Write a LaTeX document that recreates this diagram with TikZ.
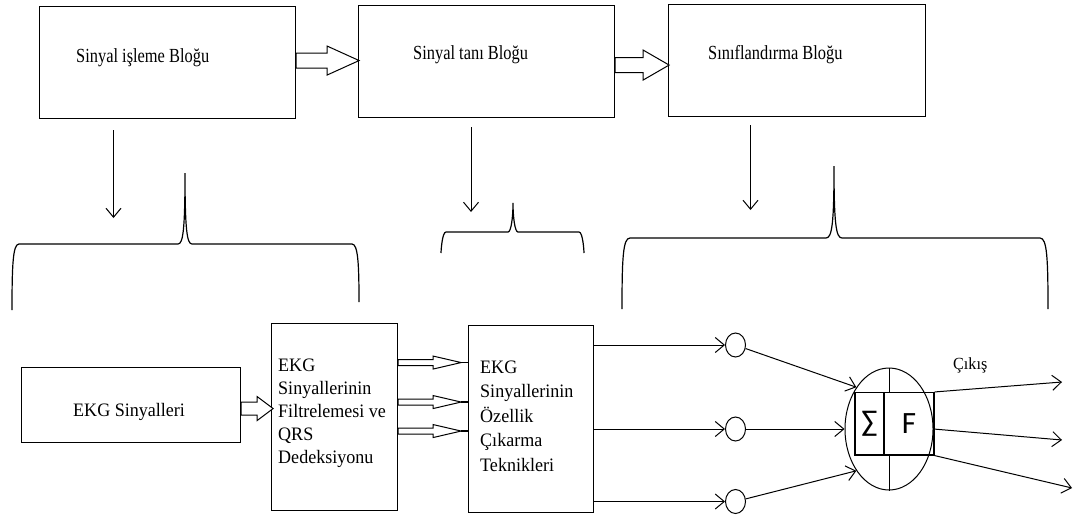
\documentclass[tikz,border=0pt]{standalone}
\usepackage{fontspec}
\setmainfont{Liberation Serif}
\newfontfamily\topfont{Liberation Serif}[FakeStretch=0.82]
\newfontfamily\botfont{Liberation Serif}[FakeStretch=0.95]
\newfontfamily\symfont{Carlito}
\usetikzlibrary{arrows.meta,calc,shapes.geometric}
\newcommand{\blockarr}[5]{\draw[fat,shift={(#1)}] (0,-#3) -- (#2-#5,-#3) -- (#2-#5,-#4) -- (#2,0) -- (#2-#5,#4) -- (#2-#5,#3) -- (0,#3) -- cycle;}
\newcommand{\hbrace}[8]{\draw[bracestyle] (#1,#6) .. controls (#1,#3+20) and (#1+1,#3) .. (#1+#8,#3) -- (#4-#8,#3) .. controls (#4-2,#3) and (#4,#3-14) .. (#4,#5) .. controls (#4,#3-14) and (#4+2,#3) .. (#4+#8,#3) -- (#2-#8,#3) .. controls (#2-1,#3) and (#2,#3+20) .. (#2,#7);}
\begin{document}
\begin{tikzpicture}[x=1pt,y=-1pt,
  box/.style={draw,line width=1.1pt,inner sep=0pt,anchor=north west},
  arr/.style={line width=1pt,-{Straight Barb[length=9pt,width=15pt]}},
  fat/.style={draw,line width=1pt,fill=white,line join=miter},
  bracestyle/.style={draw,line width=1.2pt},
  ttxt/.style={font=\topfont\fontsize{20}{24}\selectfont,anchor=base west,inner sep=0pt},
  btxt/.style={font=\botfont\fontsize{19}{23}\selectfont,anchor=north west,inner sep=0pt,align=left},
  circ/.style={ellipse,draw,line width=1pt,minimum width=20pt,minimum height=24pt,inner sep=0pt},
  cell/.style={draw,line width=1.1pt,minimum height=62.5pt,inner sep=0pt,font=\symfont\fontsize{31}{33}\selectfont}]
\useasboundingbox (0,0) rectangle (1075,517);
% top blocks
\node[box,minimum width=256pt,minimum height=112pt] (b1) at (39,6) {};
\node[box,minimum width=256pt,minimum height=112pt] (b2) at (358,5) {};
\node[box,minimum width=257pt,minimum height=112pt] (b3) at (668,3.5) {};
\node[ttxt] (t1) at (76,62) {Sinyal işleme Bloğu};
\node[ttxt] (t2) at (413,59) {Sinyal tanı Bloğu};
\node[ttxt] (t3) at (708,59) {Sınıflandırma Bloğu};
\blockarr{$(b1.east)+(0,-2)$}{63}{7.5}{14.5}{32}
\blockarr{$(b2.east)+(0,3.5)$}{54}{7.5}{15}{26}
% down arrows
\coordinate (d1s) at (113.5,130); \coordinate (d1e) at (113.5,218);
\coordinate (d2s) at (471,127); \coordinate (d2e) at (471,212);
\coordinate (d3s) at (750.5,125); \coordinate (d3e) at (750.5,210);
\draw[arr] (d1s) -- (d1e);
\draw[arr] (d2s) -- (d2e);
\draw[arr] (d3s) -- (d3e);
% braces
\hbrace{12}{359}{244}{185}{173}{310}{302}{7}
\hbrace{441}{584}{232}{513}{203}{253}{253}{5}
\hbrace{622}{1048}{238}{834}{166}{309}{309}{8}
% bottom blocks
\node[box,minimum width=219pt,minimum height=75pt] (e) at (21,367) {};
\node[box,minimum width=126pt,minimum height=187pt] (f) at (271,323) {};
\node[box,minimum width=125pt,minimum height=187pt] (o) at (468,325) {};
\node[font=\botfont\fontsize{19}{23}\selectfont,anchor=base west,inner sep=0pt] (et) at (73,416) {EKG Sinyalleri};
\node[btxt] (ft) at (278,358.5) {EKG\\Sinyallerinin\\Filtrelemesi ve\\QRS\\Dedeksiyonu};
\node[btxt,font=\botfont\fontsize{19}{24.5}\selectfont] (ot) at (480,360.5) {EKG\\Sinyallerinin\\Özellik\\Çıkarma\\Teknikleri};
\blockarr{$(e.east)+(0,3.5)$}{32}{6.5}{12}{16}
\blockarr{$(f.east)+(0,-54.5)$}{63}{3}{6.5}{28}
\blockarr{$(f.east)+(0,-15)$}{63}{3}{6.5}{28}
\blockarr{$(f.east)+(0,14)$}{63}{3}{6.5}{28}
\draw[line width=1.4pt] ($(f.east)+(63,-54.5)$) -- ++(8,0);
\draw[line width=1.2pt] ($(f.east)+(63,-15)$) -- ++(8,0);
\draw[line width=1.2pt] ($(f.east)+(63,14)$) -- ++(8,0);
% neuron
\node[circ] (c1) at (735.5,345) {};
\node[circ] (c2) at (735.5,429) {};
\node[circ] (c3) at (735.5,501.5) {};
\draw[arr] (o.east |- c1) -- (c1.west);
\draw[arr] (o.east |- c2) -- (c2.west);
\draw[arr] (o.east |- c3) -- (c3.west);
\node[ellipse,draw,line width=1pt,minimum width=88pt,minimum height=122pt,inner sep=0pt] (n) at (889,429) {};
\node[cell,minimum width=29pt] (s) at (869.5,423.75) {\fontsize{30}{32}\selectfont ∑};
\node[cell,minimum width=50pt] (fn) at (909,423.75) {F};
\draw[line width=1pt] (n.north) -- (n.north |- fn.north);
\draw[line width=1pt] (n.south) -- (n.south |- fn.south);
\draw[arr] (c1) -- (n.128);
\draw[arr] (c2) -- (n.west);
\draw[arr] (c3) -- (n.232);
\coordinate (o1) at (1062,382);
\coordinate (o2) at (1062,440);
\coordinate (o3) at (1072,488);
\draw[arr] (fn.north east) -- (o1);
\draw[arr] (n.east) -- (o2);
\draw[arr] (fn.south east) -- (o3);
\node[font=\botfont\fontsize{17}{20}\selectfont,anchor=base west,inner sep=0pt] (cik) at (953,369) {Çıkış};
\end{tikzpicture}
\end{document}
